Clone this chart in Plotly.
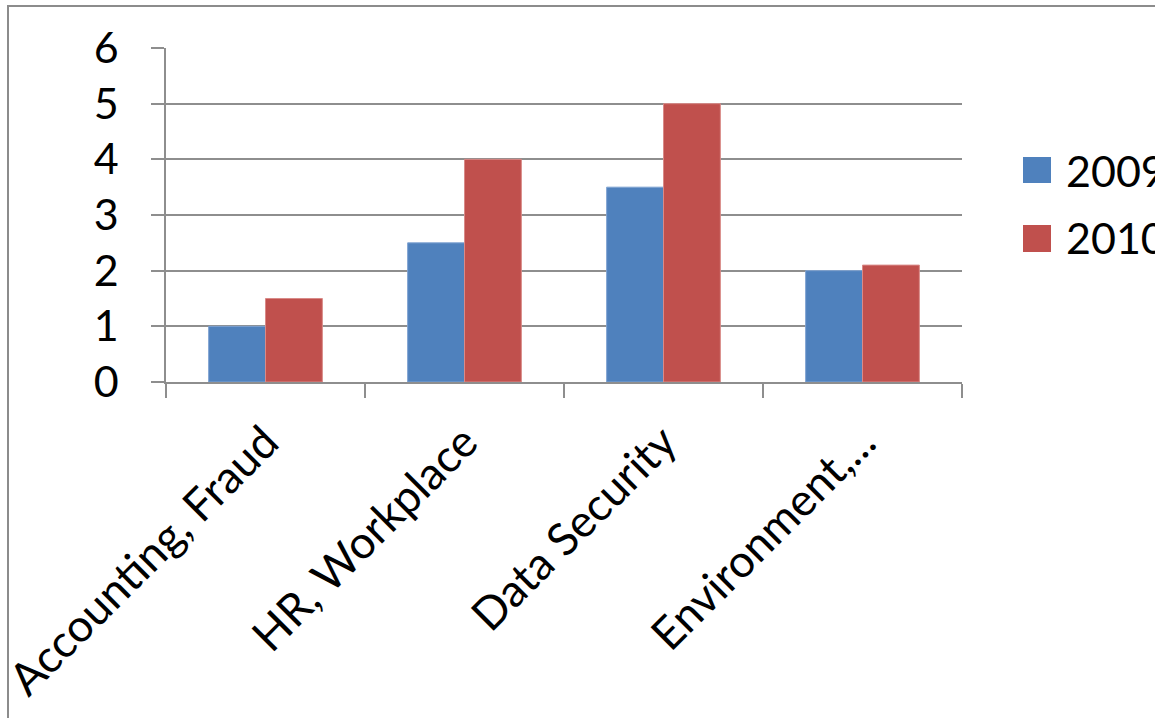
import plotly.graph_objects as go

categories = ["Accounting, Fraud", "HR, Workplace", "Data Security", "Environment,..."]
series_names = ["2009", "2010"]
values_2009 = [1, 2.5, 3.5, 2]
values_2010 = [1.5, 4, 5, 2.1]
y_ticks = [0, 1, 2, 3, 4, 5, 6]

colors = ["#4F81BD", "#C0504D"]
edge = ["#7FA3D2", "#D98A88"]
FONT = "Lato"
W, H = 1155, 718
L, R, T, B = 166, 193, 48, 336

fig = go.Figure()
for name, vals, c, e in zip(series_names, [values_2009, values_2010], colors, edge):
    fig.add_trace(go.Bar(x=categories, y=vals, name=name, marker=dict(color=c, line=dict(color=e, width=1)),
                         showlegend=False))

grid = "#8E8E8E"
fig.update_layout(
    width=W, height=H,
    margin=dict(l=L, r=R, t=T, b=B, autoexpand=False),
    paper_bgcolor="white", plot_bgcolor="white",
    barmode="group", bargap=1.5 / 3.5, bargroupgap=0,
    font=dict(family=FONT, size=43, color="black"),
    xaxis=dict(showline=True, linecolor=grid, linewidth=1.5, ticks="outside", tickson="boundaries",
               ticklen=14, tickcolor=grid, tickwidth=1.5, tickangle=-45, showgrid=False,
               ticklabelstandoff=14, tickfont=dict(family=FONT, size=45)),
    yaxis=dict(range=[0, 6], tickvals=y_ticks, showline=True, linecolor=grid, linewidth=1.5,
               ticks="outside", ticklen=13, tickcolor=grid, tickwidth=1.5, showgrid=True,
               gridcolor=grid, gridwidth=1.5, zeroline=False, ticklabelstandoff=24,
               tickfont=dict(family=FONT, size=43)),
)

pw = W - L - R
ph = H - T - B
def px(x):
    return (x - L) / pw
def py(y):
    return (H - B - y) / ph

# outer chart border
fig.add_shape(type="rect", xref="paper", yref="paper", x0=px(8), x1=px(1300), y0=py(900), y1=py(6),
              line=dict(color="#8C8C8C", width=2), fillcolor="rgba(0,0,0,0)", layer="above")

# legend (manual)
legend_rows = [(157, 183, 170), (225, 252, 238)]
for (y0, y1, yc), name, c in zip(legend_rows, series_names, colors):
    fig.add_shape(type="rect", xref="paper", yref="paper", x0=px(1023), x1=px(1051), y0=py(y1), y1=py(y0),
                  fillcolor=c, line=dict(width=0))
    fig.add_annotation(xref="paper", yref="paper", x=px(1064), y=py(yc), text=name, showarrow=False,
                       xanchor="left", yanchor="middle", font=dict(family=FONT, size=43, color="black"))

fig.write_html("out.html")
